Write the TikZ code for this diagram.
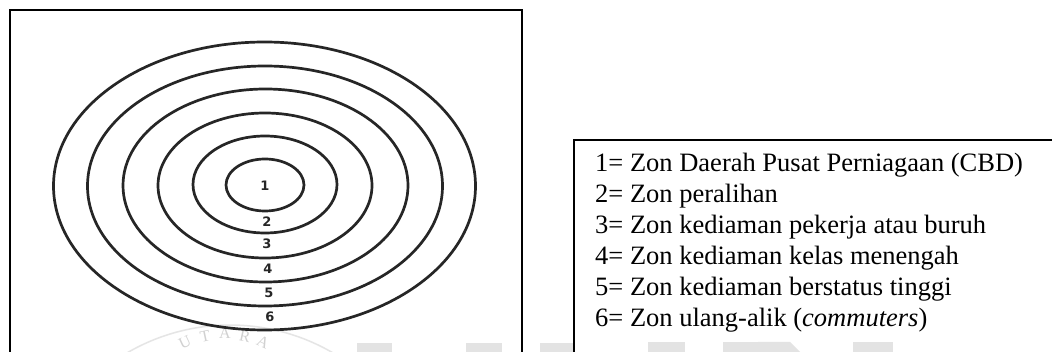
\documentclass[tikz,border=0pt]{standalone}
\usepackage{fontspec}
\setmainfont{Liberation Serif}
\newfontfamily\digitfont{DejaVu Sans}
\begin{document}
\begin{tikzpicture}[x=1pt,y=-1pt,
  ring/.style={draw=black!85,line width=2.7pt},
  zonelabel/.style={font=\digitfont\bfseries\fontsize{13}{13}\selectfont, inner sep=0pt, text=black!85},
  legendline/.style={font=\fontsize{26.5}{31}\selectfont, anchor=base west, inner sep=0pt},
  frame/.style={draw=black, line width=2pt},
  wm/.style={fill=black!11, draw=none},
  wmtext/.style={font=\fontsize{16}{16}\selectfont, text=black!18, inner sep=0pt}]
\useasboundingbox (0,0) rectangle (1052,352);
\fill[white] (0,0) rectangle (1052,352);
% faint watermark fragments
\coordinate (wmc) at (230,529);
\draw[black!10, line width=1.5pt] (wmc) ++(-121:204) arc[start angle=-121, end angle=-59, radius=204];
\node[wmtext, rotate=25] (wmU) at (185,342) {U};
\node[wmtext, rotate=12] (wmT) at (205,336) {T};
\node[wmtext] (wmA) at (225,333) {A};
\node[wmtext, rotate=-12] (wmR) at (245,336) {R};
\node[wmtext, rotate=-25] (wmA2) at (263,342) {A};
\fill[wm] (357,343) rectangle (392,352);
\fill[wm] (466,343) rectangle (502,352);
\fill[wm] (540,343) rectangle (574,352);
\fill[wm] (648,342) rectangle (685,352);
\fill[wm] (723,342) rectangle (758,352);
\fill[wm] (758,342) -- (790,342) -- (800,352) -- (758,352) -- cycle;
\fill[wm] (853,342) rectangle (893,352);
% frames
\draw[frame] (10,360) -- (10,10) -- (522,10) -- (522,360);
\draw[frame] (574,360) -- (574,140) -- (1060,140);
% rings
\draw[ring] (264.5,186) ellipse [x radius=211, y radius=144];
\draw[ring] (265,186) ellipse [x radius=177.5, y radius=120];
\draw[ring] (265.5,185.5) ellipse [x radius=142.5, y radius=96.5];
\draw[ring] (265,185.5) ellipse [x radius=107, y radius=72.5];
\draw[ring] (265,184.5) ellipse [x radius=72, y radius=48.5];
\draw[ring] (265,185) ellipse [x radius=39, y radius=26];
% zone numbers
\node[zonelabel] (z1) at (265,186) {1};
\node[zonelabel] (z2) at (267,222) {2};
\node[zonelabel] (z3) at (267,244) {3};
\node[zonelabel] (z4) at (268,269) {4};
\node[zonelabel] (z5) at (269,293) {5};
\node[zonelabel] (z6) at (270,317) {6};
% legend
\node[legendline] (l1) at (595,172) {1= Zon Daerah Pusat Perniagaan (CBD)};
\node[legendline] (l2) at (595,203) {2= Zon peralihan};
\node[legendline] (l3) at (595,234) {3= Zon kediaman pekerja atau buruh};
\node[legendline] (l4) at (595,265) {4= Zon kediaman kelas menengah};
\node[legendline] (l5) at (595,296) {5= Zon kediaman berstatus tinggi};
\node[legendline] (l6) at (595,327) {6= Zon ulang-alik (\textit{commuters})};
\end{tikzpicture}
\end{document}
